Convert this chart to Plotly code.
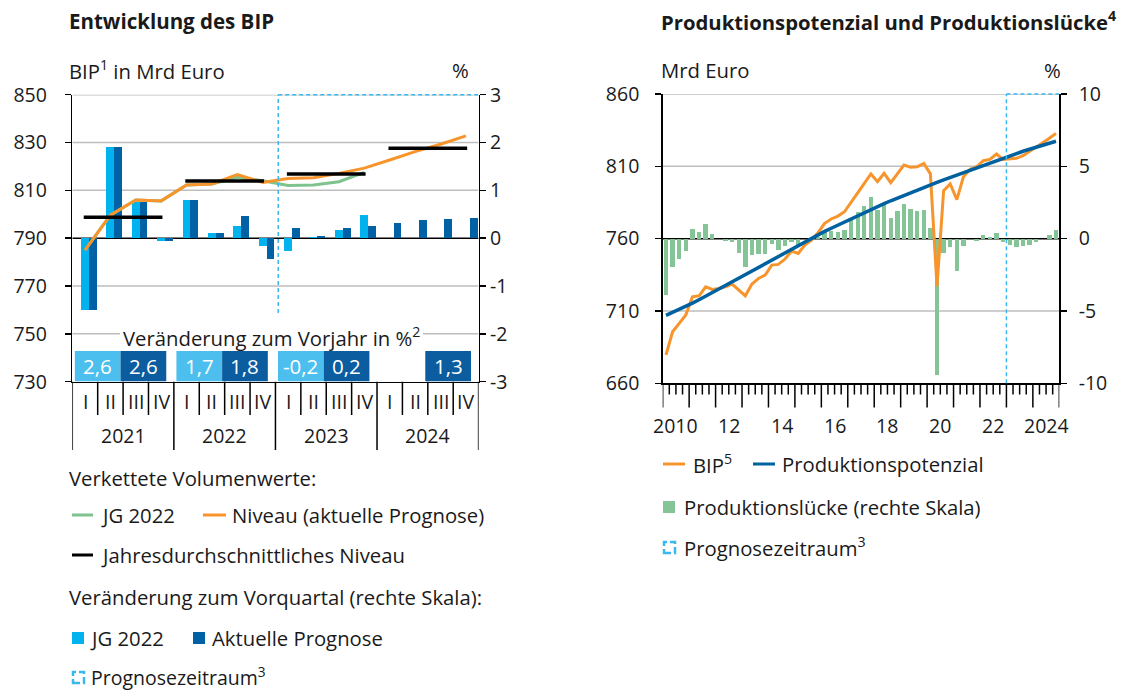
import plotly.graph_objects as go

W, H = 1126, 691
def px(x): return x / W
def py(y): return 1 - y / H

FONT = "Open Sans, Liberation Sans, Arial, sans-serif"
FS = 20.3
TICKFS = 19.5
TXT = "#1a1a1a"
LIGHT = "#00B2EE"
DARK = "#0062A5"
BOX_LIGHT = "#4CBFEE"
BOX_DARK = "#0B5D9F"
ORANGE = "#F7952C"
GREEN_LINE = "#7EC38E"
GREEN_BAR = "#84C497"
BLUE = "#0061A0"
DASHC = "#3BB8EE"

# ---------------- left chart data ----------------
quarter_labels = ["I", "II", "III", "IV"]
years_left = ["2021", "2022", "2023", "2024"]
q_idx = list(range(16))
bars_jg2022 = [-1.5, 1.9, 0.75, -0.05, 0.8, 0.1, 0.26, -0.17,
               -0.26, 0.02, 0.18, 0.48, None, None, None, None]
bars_aktuell = [-1.5, 1.9, 0.75, -0.05, 0.8, 0.1, 0.47, -0.44,
                0.22, 0.04, 0.22, 0.26, 0.32, 0.38, 0.41, 0.43]
niveau_aktuell = [785.0, 799.6, 806.0, 805.6, 812.2, 812.7, 816.6, 813.3,
                  815.0, 815.3, 817.1, 819.3, 822.7, 826.2, 829.3, 832.8]
niveau_jg2022 = [785.0, 799.6, 806.0, 805.6, 812.2, 812.7, 815.5, 814.0,
                 812.0, 812.2, 813.6, 817.5]
annual_avg = [798.8, 813.9, 816.8, 827.6]
yoy_jg2022 = [2.6, 1.7, -0.2, None]
yoy_aktuell = [2.6, 1.8, 0.2, 1.3]
left_mrd_ticks = [730, 750, 770, 790, 810, 830, 850]
left_pct_ticks = [-3, -2, -1, 0, 1, 2, 3]

# ---------------- right chart data ----------------
r_idx = list(range(60))
year_labels_right = ["2010", "12", "14", "16", "18", "20", "22", "2024"]
year_label_pos = [2010, 2012, 2014, 2016, 2018, 2020, 2022, 2024]
bip = [679.6, 695.6, 701.4, 707.2, 719.8, 720.5, 726.7, 724.9, 725.6, 726.7,
       728.6, 724.5, 720.5, 728.6, 732.5, 734.8, 741.7, 742.2, 745.9, 751.4,
       749.8, 755.6, 759.0, 764.1, 770.6, 773.6, 775.6, 778.6, 785.5, 791.7,
       798.2, 804.7, 799.4, 805.2, 798.7, 804.7, 810.9, 809.3, 809.7, 812.0,
       804.8, 727.0, 793.1, 797.8, 787.0, 802.8, 807.9, 809.7, 813.9, 814.8,
       818.5, 814.8, 815.0, 815.5, 817.3, 820.1, 822.9, 826.3, 829.4, 832.8]
potenzial = [707.0, 709.0, 711.1, 713.2, 715.4, 717.8, 720.3, 722.9, 725.5, 728.0,
             730.4, 732.8, 735.2, 737.6, 740.0, 742.5, 745.0, 747.5, 750.0, 752.5,
             755.0, 757.6, 760.2, 762.6, 765.0, 767.2, 769.4, 771.6, 773.8, 775.9,
             778.0, 780.1, 782.2, 784.2, 786.2, 788.1, 790.0, 791.8, 793.6, 795.4,
             797.1, 798.9, 800.6, 802.3, 804.0, 805.7, 807.4, 809.1, 810.8, 812.5,
             814.1, 815.7, 817.4, 818.9, 820.4, 821.8, 823.2, 824.6, 826.0, 827.3]
luecke = [-3.9, -1.96, -1.4, -0.88, 0.65, 0.46, 1.02, 0.33, 0.0, -0.14,
          -0.22, -1.0, -1.96, -1.1, -1.04, -1.06, -0.4, -0.75, -0.54, -0.25,
          -0.44, -0.05, 0.0, 0.14, 0.55, 0.55, 0.48, 0.6, 1.27, 1.87,
          2.28, 2.86, 1.98, 2.4, 1.4, 1.94, 2.4, 2.03, 1.94, 1.96,
          0.71, -9.42, -1.01, -0.55, -2.21, -0.48, -0.03, -0.16, 0.25, 0.14,
          0.39, -0.24, -0.45, -0.58, -0.52, -0.46, -0.22, 0.0, 0.25, 0.59]
right_mrd_ticks = [660, 710, 760, 810, 860]
right_pct_ticks = [-10, -5, 0, 5, 10]

fig = go.Figure()

# left chart bars (% axis, y)
fig.add_trace(go.Bar(x=q_idx, y=bars_jg2022, xaxis="x", yaxis="y", width=0.31, offset=-0.16,
                     marker=dict(color=LIGHT, line=dict(width=0))))
fig.add_trace(go.Bar(x=q_idx, y=bars_aktuell, xaxis="x", yaxis="y", width=0.31, offset=0.15,
                     marker=dict(color=DARK, line=dict(width=0))))
# left chart lines (Mrd axis, y2)
fig.add_trace(go.Scatter(x=q_idx[:len(niveau_jg2022)], y=niveau_jg2022, xaxis="x", yaxis="y2",
                         mode="lines", line=dict(color=GREEN_LINE, width=3)))
fig.add_trace(go.Scatter(x=q_idx, y=niveau_aktuell, xaxis="x", yaxis="y2",
                         mode="lines", line=dict(color=ORANGE, width=3)))
ax, ay = [], []
for k, v in enumerate(annual_avg):
    ax += [4 * k - 0.05, 4 * k + 3.05, None]
    ay += [v, v, None]
fig.add_trace(go.Scatter(x=ax, y=ay, xaxis="x", yaxis="y2", mode="lines",
                         line=dict(color="black", width=3.5), connectgaps=False))

# right chart
fig.add_trace(go.Bar(x=r_idx, y=luecke, xaxis="x2", yaxis="y3", width=0.66,
                     marker=dict(color=GREEN_BAR, line=dict(width=0))))
fig.add_trace(go.Scatter(x=r_idx, y=bip, xaxis="x2", yaxis="y4", mode="lines",
                         line=dict(color=ORANGE, width=3)))
fig.add_trace(go.Scatter(x=r_idx, y=potenzial, xaxis="x2", yaxis="y4", mode="lines",
                         line=dict(color=BLUE, width=3.5)))

axis_common = dict(showgrid=False, zeroline=False, fixedrange=True, automargin=False)
tickfont = dict(family=FONT, size=TICKFS, color=TXT)

L_TOP, L_BOT = 94.7, 381.7
R_TOP, R_BOT = 94.0, 383.3
LX0, LX1 = 72.3, 478.6
RX0, RX1 = 662.7, 1059.3

fig.update_layout(
    template="none",
    width=W, height=H, autosize=False,
    margin=dict(l=0, r=0, t=0, b=0, pad=0, autoexpand=False),
    paper_bgcolor="white", plot_bgcolor="rgba(0,0,0,0)",
    showlegend=False, barmode="overlay", bargap=0,
    font=dict(family=FONT, size=FS, color=TXT),
    xaxis=dict(domain=[px(LX0), px(LX1)], range=[-0.5, 15.5], anchor="y",
               showticklabels=False, ticks="", showline=True, linecolor="black",
               linewidth=1.5, **axis_common),
    yaxis=dict(domain=[py(L_BOT), py(L_TOP)], range=[-3, 3], side="right", anchor="x",
               tickvals=left_pct_ticks, ticktext=[str(v) for v in left_pct_ticks],
               ticks="outside", ticklen=6, tickwidth=1.5, tickcolor="black",
               showline=True, linecolor="black", linewidth=1.5, tickfont=tickfont,
               ticklabelstandoff=0, **axis_common),
    yaxis2=dict(overlaying="y", side="left", anchor="x", range=[730, 850],
                tickvals=left_mrd_ticks, ticktext=[str(v) for v in left_mrd_ticks],
                ticks="outside", ticklen=6, tickwidth=1.5, tickcolor="black",
                showline=True, linecolor="black", linewidth=1.5, tickfont=tickfont,
                ticklabelstandoff=14, **axis_common),
    xaxis2=dict(domain=[px(RX0), px(RX1)], range=[-0.5, 59.5], anchor="y3",
                showticklabels=False, ticks="", showline=True, linecolor="black",
                linewidth=1.5, **axis_common),
    yaxis3=dict(domain=[py(R_BOT), py(R_TOP)], range=[-10, 10], side="right", anchor="x2",
                tickvals=right_pct_ticks, ticktext=[str(v) for v in right_pct_ticks],
                ticks="outside", ticklen=6, tickwidth=1.5, tickcolor="black",
                showline=True, linecolor="black", linewidth=1.5, tickfont=tickfont,
                ticklabelstandoff=8, **axis_common),
    yaxis4=dict(overlaying="y3", side="left", anchor="x2", range=[660, 860],
                tickvals=right_mrd_ticks, ticktext=[str(v) for v in right_mrd_ticks],
                ticks="outside", ticklen=6, tickwidth=1.5, tickcolor="black",
                showline=True, linecolor="black", linewidth=1.5, tickfont=tickfont,
                ticklabelstandoff=12, **axis_common),
)

shapes = []
annotations = []

def hline_paper(x0, x1, y, color, width, dash="solid", layer="above"):
    shapes.append(dict(type="line", xref="paper", yref="paper", x0=px(x0), x1=px(x1),
                       y0=py(y), y1=py(y), line=dict(color=color, width=width, dash=dash),
                       layer=layer))

# gridlines (on % axes, equivalent to Mrd levels)
for v in left_pct_ticks[1:]:
    shapes.append(dict(type="line", xref="x", yref="y", x0=-0.5, x1=15.5, y0=v, y1=v,
                       line=dict(color="black" if v == 0 else "#BEBEBE", width=1.5),
                       layer="below"))
for v in right_pct_ticks[1:]:
    shapes.append(dict(type="line", xref="x2", yref="y3", x0=-0.5, x1=59.5, y0=v, y1=v,
                       line=dict(color="black" if v == 0 else "#BEBEBE", width=1.5),
                       layer="below"))

# left: quarter/year separators below x axis
for b in [k + 0.5 for k in range(-1, 16)]:
    is_year = (round(b + 0.5) % 4 == 0)
    y_end = 450 if is_year else 415
    shapes.append(dict(type="line", xref="x", yref="paper", x0=b, x1=b, y0=py(L_BOT), y1=py(y_end),
                       line=dict(color="black", width=1.5)))
for q in q_idx:
    annotations.append(dict(x=q, y=py(401), xref="x", yref="paper", text=quarter_labels[q % 4],
                            showarrow=False, xanchor="center", yanchor="middle",
                            font=dict(size=TICKFS, color=TXT)))
for k, yl in enumerate(years_left):
    annotations.append(dict(x=4 * k + 1.5, y=py(435), xref="x", yref="paper", text=yl,
                            showarrow=False, xanchor="center", yanchor="middle",
                            font=dict(size=TICKFS, color=TXT)))

# left: yearly change boxes
def fmt(v):
    return ("%.1f" % v).replace(".", ",")
for k in range(4):
    ys = 4 * k - 0.5
    for val, xa, xb, col in [(yoy_jg2022[k], ys + 0.1, ys + 1.9, BOX_LIGHT),
                             (yoy_aktuell[k], ys + 1.9, ys + 3.7, BOX_DARK)]:
        if val is None:
            continue
        shapes.append(dict(type="rect", xref="x", yref="paper", x0=xa, x1=xb,
                           y0=py(L_BOT - 0.5), y1=py(351), fillcolor=col,
                           line=dict(width=0), layer="above"))
        annotations.append(dict(x=(xa + xb) / 2, y=py(366), xref="x", yref="paper", text=fmt(val),
                                showarrow=False, xanchor="center", yanchor="middle",
                                font=dict(size=TICKFS + 1, color="white")))

# white label box + text
shapes.append(dict(type="rect", xref="paper", yref="paper", x0=px(120), x1=px(423),
                   y0=py(350), y1=py(313), fillcolor="white", line=dict(width=0), layer="above"))
annotations.append(dict(x=px(271), y=py(337), xref="paper", yref="paper",
                        text="Veränderung zum Vorjahr in %<sup>2</sup>", showarrow=False,
                        xanchor="center", yanchor="middle", font=dict(size=FS, color=TXT)))

# left: forecast dashed frame
xl = 7.61
shapes.append(dict(type="line", xref="x", yref="paper", x0=xl, x1=xl, y0=py(313), y1=py(L_TOP),
                   line=dict(color=DASHC, width=1.5, dash="4px,3px"), layer="above"))
shapes.append(dict(type="line", xref="x", yref="paper", x0=xl, x1=15.5, y0=py(L_TOP), y1=py(L_TOP),
                   line=dict(color=DASHC, width=1.5, dash="4px,3px"), layer="above"))

# right: x ticks
for k in range(61):
    b = k - 0.5
    y_end = 407.5 if k % 4 == 0 else 394.5
    shapes.append(dict(type="line", xref="x2", yref="paper", x0=b, x1=b, y0=py(R_BOT), y1=py(y_end),
                       line=dict(color="black", width=1.5)))
for lab, yr in zip(year_labels_right, year_label_pos):
    annotations.append(dict(x=(yr - 2010) * 4 + 1.5, y=py(425), xref="x2", yref="paper", text=lab,
                            showarrow=False, xanchor="center", yanchor="middle",
                            font=dict(size=TICKFS, color=TXT)))

# right: forecast dashed frame
xr = 51.5
shapes.append(dict(type="line", xref="x2", yref="paper", x0=xr, x1=xr, y0=py(R_BOT), y1=py(R_TOP),
                   line=dict(color=DASHC, width=1.5, dash="4px,3px"), layer="above"))
shapes.append(dict(type="line", xref="x2", yref="paper", x0=xr, x1=59.5, y0=py(R_TOP), y1=py(R_TOP),
                   line=dict(color=DASHC, width=1.5, dash="4px,3px"), layer="above"))

# titles and axis captions
def text(x, y, s, size=FS, bold=False, anchor="left"):
    annotations.append(dict(x=px(x), y=py(y), xref="paper", yref="paper",
                            text=("<b>%s</b>" % s) if bold else s, showarrow=False,
                            xanchor=anchor, yanchor="middle",
                            font=dict(size=size, color=TXT)))

text(67, 21, "Entwicklung des BIP", size=20.5, bold=True)
text(659, 21, "Produktionspotenzial und Produktionslücke<sup>4</sup>", size=20.3, bold=True)
text(67, 70, "BIP<sup>1</sup> in Mrd Euro")
text(460, 70, "%", anchor="center")
text(659, 70, "Mrd Euro")
text(1052, 70, "%", anchor="center")

# left legend
text(67, 478, "Verkettete Volumenwerte:")
hline_paper(72, 93, 515, GREEN_LINE, 3)
text(99, 515, "JG 2022")
hline_paper(203, 226, 515, ORANGE, 3)
text(230, 515, "Niveau (aktuelle Prognose)")
hline_paper(72, 93, 555, "black", 3)
text(99, 555, "Jahresdurchschnittliches Niveau")
text(67, 597, "Veränderung zum Vorquartal (rechte Skala):")
shapes.append(dict(type="rect", xref="paper", yref="paper", x0=px(72), x1=px(84), y0=py(644), y1=py(632),
                   fillcolor=LIGHT, line=dict(width=0)))
text(88, 638, "JG 2022")
shapes.append(dict(type="rect", xref="paper", yref="paper", x0=px(193), x1=px(205), y0=py(644), y1=py(632),
                   fillcolor=DARK, line=dict(width=0)))
text(210, 638, "Aktuelle Prognose")
shapes.append(dict(type="rect", xref="paper", yref="paper", x0=px(73), x1=px(84), y0=py(683), y1=py(672),
                   fillcolor="rgba(0,0,0,0)", line=dict(color=DASHC, width=2.5, dash="7px,3px")))
text(89, 676, "Prognosezeitraum<sup>3</sup>", size=19.5)

# right legend
hline_paper(663, 685, 464, ORANGE, 3)
text(691, 464, "BIP<sup>5</sup>")
hline_paper(753, 775, 464, BLUE, 3)
text(780, 464, "Produktionspotenzial")
shapes.append(dict(type="rect", xref="paper", yref="paper", x0=px(663), x1=px(675), y0=py(513), y1=py(501),
                   fillcolor=GREEN_BAR, line=dict(width=0)))
text(682, 507, "Produktionslücke (rechte Skala)")
shapes.append(dict(type="rect", xref="paper", yref="paper", x0=px(664), x1=px(675), y0=py(553), y1=py(542),
                   fillcolor="rgba(0,0,0,0)", line=dict(color=DASHC, width=2.5, dash="7px,3px")))
text(682, 547, "Prognosezeitraum<sup>3</sup>")

fig.update_layout(shapes=shapes, annotations=annotations)

fig.write_html("out.html", include_plotlyjs=True, full_html=True,
               config={"displayModeBar": False, "staticPlot": True},
               post_script="document.body.style.margin='0';document.body.style.overflow='hidden';")
